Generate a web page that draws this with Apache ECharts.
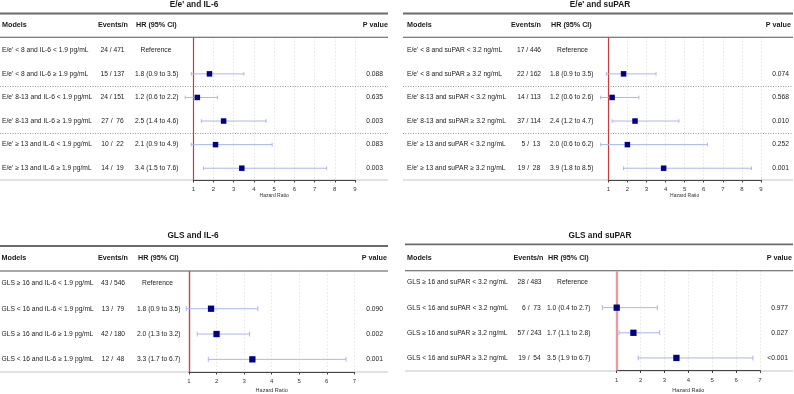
<!DOCTYPE html>
<html><head><meta charset="utf-8">
<script src="https://cdn.jsdelivr.net/npm/echarts@6/dist/echarts.min.js"></script>
<style>html,body{margin:0;padding:0;background:#fff}#c{width:794px;height:394px}</style>
</head><body><div id="c"></div>
<script>
// ---------- DATA ----------
const titles = ["E/e' and IL-6", "E/e' and suPAR", "GLS and IL-6", "GLS and suPAR"];
const headers = ["Models", "Events/n", "HR (95% CI)", "P value"];
const axisLabelName = "Hazard Ratio";

const p1Labels = ["E/e' < 8 and IL-6 < 1.9 pg/mL", "E/e' < 8 and IL-6 \u2265 1.9 pg/mL", "E/e' 8-13 and IL-6 < 1.9 pg/mL", "E/e' 8-13 and IL-6 \u2265 1.9 pg/mL", "E/e' \u2265 13 and IL-6 < 1.9 pg/mL", "E/e' \u2265 13 and IL-6 \u2265 1.9 pg/mL"];
const p1Events = ["24 / 471", "15 / 137", "24 / 151", "27 /  76", "10 /  22", "14 /  19"];
const p1HR = [null, 1.8, 1.2, 2.5, 2.1, 3.4];
const p1Lo = [null, 0.9, 0.6, 1.4, 0.9, 1.5];
const p1Hi = [null, 3.5, 2.2, 4.6, 4.9, 7.6];
const p1P = ["", "0.088", "0.635", "0.003", "0.083", "0.003"];
const p1Sep = [2, 4];
const p1Ticks = [1, 2, 3, 4, 5, 6, 7, 8, 9];

const p2Labels = ["E/e' < 8 and suPAR < 3.2 ng/mL", "E/e' < 8 and suPAR \u2265 3.2 ng/mL", "E/e' 8-13 and suPAR < 3.2 ng/mL", "E/e' 8-13 and suPAR \u2265 3.2 ng/mL", "E/e' \u2265 13 and suPAR < 3.2 ng/mL", "E/e' \u2265 13 and suPAR \u2265 3.2 ng/mL"];
const p2Events = ["17 / 446", "22 / 162", "14 / 113", "37 / 114", "  5 /  13", "19 /  28"];
const p2HR = [null, 1.8, 1.2, 2.4, 2.0, 3.9];
const p2Lo = [null, 0.9, 0.6, 1.2, 0.6, 1.8];
const p2Hi = [null, 3.5, 2.6, 4.7, 6.2, 8.5];
const p2P = ["", "0.074", "0.568", "0.010", "0.252", "0.001"];
const p2Sep = [2, 4];
const p2Ticks = [1, 2, 3, 4, 5, 6, 7, 8, 9];

const p3Labels = ["GLS \u2265 16 and IL-6 < 1.9 pg/mL", "GLS < 16 and IL-6 < 1.9 pg/mL", "GLS \u2265 16 and IL-6 \u2265 1.9 pg/mL", "GLS < 16 and IL-6 \u2265 1.9 pg/mL"];
const p3Events = ["43 / 546", "13 /  79", "42 / 180", "12 /  48"];
const p3HR = [null, 1.8, 2.0, 3.3];
const p3Lo = [null, 0.9, 1.3, 1.7];
const p3Hi = [null, 3.5, 3.2, 6.7];
const p3P = ["", "0.090", "0.002", "0.001"];
const p3Sep = [];
const p3Ticks = [1, 2, 3, 4, 5, 6, 7];

const p4Labels = ["GLS \u2265 16 and suPAR < 3.2 ng/mL", "GLS < 16 and suPAR < 3.2 ng/mL", "GLS \u2265 16 and suPAR \u2265 3.2 ng/mL", "GLS < 16 and suPAR \u2265 3.2 ng/mL"];
const p4Events = ["28 / 483", "  6 /  73", "57 / 243", "19 /  54"];
const p4HR = [null, 1.0, 1.7, 3.5];
const p4Lo = [null, 0.4, 1.1, 1.9];
const p4Hi = [null, 2.7, 2.8, 6.7];
const p4P = ["", "0.977", "0.027", "<0.001"];
const p4Sep = [];
const p4Ticks = [1, 2, 3, 4, 5, 6, 7];

const refText = "Reference";
const refHR = 1;
// ---------- LAYOUT ----------
const FF = "'Liberation Sans', Arial, sans-serif";
const panels = [
  {labels:p1Labels, events:p1Events, hr:p1HR, lo:p1Lo, hi:p1Hi, p:p1P, sep:p1Sep, ticks:p1Ticks,
   x0:0, x1:388, titleX:194, titleY:5, thickY:13.5, headY:25, headLineY:37.3, botY:180,
   gL:193.3, gR:355, yMin:0.45, yMax:6.5, cLab:2, cEv:112.5, cEvH:113, cHR:135, cRef:156, cP:383, cPH:388,
   sq:5.5, cap:3.6, red:'#c43c3c', redW:1.2, lblMargin:6, nameGap:13.5, nameSize:5},
  {labels:p2Labels, events:p2Events, hr:p2HR, lo:p2Lo, hi:p2Hi, p:p2P, sep:p2Sep, ticks:p2Ticks,
   x0:403, x1:793, titleX:600, titleY:5, thickY:13.5, headY:25, headLineY:37.3, botY:180,
   gL:608.3, gR:761, yMin:0.45, yMax:6.5, cLab:407, cEv:529, cEvH:526, cHR:550, cRef:572.5, cP:789, cPH:791,
   sq:5.5, cap:3.6, red:'#c43c3c', redW:1.2, lblMargin:6, nameGap:13.5, nameSize:5},
  {labels:p3Labels, events:p3Events, hr:p3HR, lo:p3Lo, hi:p3Hi, p:p3P, sep:p3Sep, ticks:p3Ticks,
   x0:0, x1:388, titleX:193, titleY:236, thickY:246, headY:258, headLineY:271, botY:372,
   gL:189, gR:354.3, yMin:0.51, yMax:4.5, cLab:1.5, cEv:113, cEvH:113, cHR:137, cRef:157.5, cP:383, cPH:387,
   sq:6.3, cap:5, red:'#cc4444', redW:1.4, lblMargin:6, nameGap:15, nameSize:5.5},
  {labels:p4Labels, events:p4Events, hr:p4HR, lo:p4Lo, hi:p4Hi, p:p4P, sep:p4Sep, ticks:p4Ticks,
   x0:405, x1:793, titleX:600, titleY:236, thickY:244.3, headY:257.7, headLineY:270.7, botY:371,
   gL:616.7, gR:760, yMin:0.53, yMax:4.5, cLab:407, cEv:529.5, cEvH:528.5, cHR:547, cRef:572.5, cP:788, cPH:792,
   sq:6.3, cap:5, red:'#e59e9e', redW:2.4, lblMargin:6.5, nameGap:16.5, nameSize:5.5}
];

const TXT = '#1a1a1a';
const grids = [], xAxes = [], yAxes = [], series = [], graphics = [];

panels.forEach((P, k) => {
  grids.push({left:P.gL, top:P.headLineY, width:P.gR - P.gL, height:P.botY - P.headLineY, containLabel:false});
  const tmin = P.ticks[0], tmax = P.ticks[P.ticks.length - 1];
  xAxes.push({type:'value', gridIndex:k, min:tmin, max:tmax, interval:1,
    axisLine:{show:true, lineStyle:{color:'#444', width:1}},
    axisTick:{show:true, length:2.5, lineStyle:{color:'#444'}},
    axisLabel:{fontSize:6, color:'#333', fontFamily:FF, margin:P.lblMargin,
      formatter: v => (P.ticks.indexOf(v) >= 0 ? String(v) : '')},
    splitLine:{show:true, lineStyle:{color:'#e6e6e6', type:[1.5, 2], width:1}},
    name:axisLabelName, nameLocation:'middle', nameGap:P.nameGap,
    nameTextStyle:{fontSize:P.nameSize, color:'#333', fontFamily:FF}});
  yAxes.push({type:'value', gridIndex:k, inverse:true, min:P.yMin, max:P.yMax, show:false});

  // table frame lines (decoration)
  graphics.push({type:'line', shape:{x1:P.x0, y1:P.thickY, x2:P.x1, y2:P.thickY}, style:{stroke:'#6b6b6b', lineWidth:1.8}, z:1});
  graphics.push({type:'line', shape:{x1:P.x0, y1:P.headLineY, x2:P.x1, y2:P.headLineY}, style:{stroke:'#555', lineWidth:1.1}, z:1});
  graphics.push({type:'line', shape:{x1:P.x0, y1:P.botY, x2:P.x1, y2:P.botY}, style:{stroke:'#c4c4c4', lineWidth:1}, z:0});
  graphics.push({type:'text', x:P.titleX, y:P.titleY, style:{text:titles[k], font:'bold 8.3px ' + FF, fill:TXT, textAlign:'center', textVerticalAlign:'middle'}});
  const hf = 'bold 7.2px ' + FF;
  graphics.push({type:'text', x:P.cLab, y:P.headY, style:{text:headers[0], font:hf, fill:TXT, textAlign:'left', textVerticalAlign:'middle'}});
  graphics.push({type:'text', x:P.cEvH, y:P.headY, style:{text:headers[1], font:hf, fill:TXT, textAlign:'center', textVerticalAlign:'middle'}});
  graphics.push({type:'text', x:P.cHR + 1, y:P.headY, style:{text:headers[2], font:hf, fill:TXT, textAlign:'left', textVerticalAlign:'middle'}});
  graphics.push({type:'text', x:P.cPH, y:P.headY, style:{text:headers[3], font:hf, fill:TXT, textAlign:'right', textVerticalAlign:'middle'}});

  // reference line at HR = 1 (under the marks)
  series.push({type:'custom', xAxisIndex:k, yAxisIndex:k, clip:false, silent:true, z:1,
    data:[[refHR, 1]],
    renderItem:() => ({type:'group', children:[]}),
    markLine:{silent:true, symbol:'none', label:{show:false}, animation:false,
      lineStyle:{color:P.red, width:P.redW, type:'solid'},
      data:[{xAxis:refHR}]}
  });

  // separators between groups
  if (P.sep.length) {
    series.push({type:'custom', xAxisIndex:k, yAxisIndex:k, clip:false, silent:true, z:1,
      data:P.sep.map(s => [tmin, s + 0.5]),
      renderItem:(params, api) => {
        const y = Math.round(api.coord([api.value(0), api.value(1)])[1]) + 0.5;
        return {type:'line', shape:{x1:P.x0, y1:y, x2:P.x1, y2:y}, style:{stroke:'#9a9a9a', lineWidth:1, lineDash:[1, 1.5]}};
      }});
  }

  const data = P.labels.map((l, i) => [i + 1, P.hr[i] == null ? NaN : P.hr[i], P.lo[i] == null ? NaN : P.lo[i], P.hi[i] == null ? NaN : P.hi[i]]);
  const tf = '6.7px ' + FF;
  series.push({type:'custom', xAxisIndex:k, yAxisIndex:k, clip:false, silent:true, z:5,
    data:data,
    renderItem:(params, api) => {
      const i = params.dataIndex;
      const row = api.value(0);
      const y = api.coord([tmin, row])[1];
      const ch = [];
      ch.push({type:'text', x:P.cLab, y:y, style:{text:P.labels[i], font:tf, fill:TXT, textAlign:'left', textVerticalAlign:'middle'}});
      ch.push({type:'text', x:P.cEv, y:y, style:{text:P.events[i], font:tf, fill:TXT, textAlign:'center', textVerticalAlign:'middle'}});
      const hr = P.hr[i];
      if (hr == null) {
        ch.push({type:'text', x:P.cRef, y:y, style:{text:refText, font:tf, fill:TXT, textAlign:'center', textVerticalAlign:'middle'}});
      } else {
        const s = hr.toFixed(1) + ' (' + P.lo[i].toFixed(1) + ' to ' + P.hi[i].toFixed(1) + ')';
        ch.push({type:'text', x:P.cHR, y:y, style:{text:s, font:tf, fill:TXT, textAlign:'left', textVerticalAlign:'middle'}});
        const xl = api.coord([api.value(2), row])[0];
        const xh = api.coord([api.value(3), row])[0];
        const xc = api.coord([api.value(1), row])[0];
        const ls = {stroke:'#a9b6f2', lineWidth:1};
        ch.push({type:'line', shape:{x1:xl, y1:y, x2:xh, y2:y}, style:ls});
        ch.push({type:'line', shape:{x1:xl, y1:y - P.cap / 2, x2:xl, y2:y + P.cap / 2}, style:ls});
        ch.push({type:'line', shape:{x1:xh, y1:y - P.cap / 2, x2:xh, y2:y + P.cap / 2}, style:ls});
        ch.push({type:'rect', shape:{x:xc - P.sq / 2, y:y - P.sq / 2, width:P.sq, height:P.sq}, style:{fill:'#00008b'}, z2:5});
      }
      ch.push({type:'text', x:P.cP, y:y, style:{text:P.p[i], font:tf, fill:TXT, textAlign:'right', textVerticalAlign:'middle'}});
      return {type:'group', children:ch};
    }
  });
});

const chart = echarts.init(document.getElementById('c'), null, {renderer:'canvas'});
chart.setOption({
  animation:false,
  backgroundColor:'#ffffff',
  grid:grids, xAxis:xAxes, yAxis:yAxes, series:series, graphic:graphics
});
</script>
</body></html>
